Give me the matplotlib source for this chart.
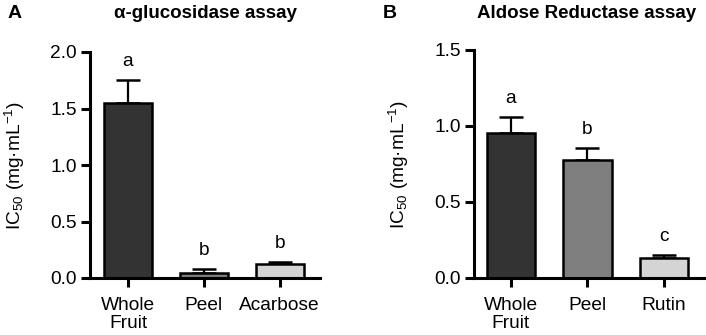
import matplotlib
matplotlib.use("Agg")
import matplotlib.pyplot as plt

plt.rcParams['font.family'] = ['Liberation Sans', 'DejaVu Sans']
plt.rcParams['mathtext.default'] = 'regular'

# panel A: alpha-glucosidase
a_labels = ['Whole\nFruit', 'Peel', 'Acarbose']
a_values = [1.545, 0.047, 0.124]
a_errors = [0.21, 0.03, 0.02]
a_letters = ['a', 'b', 'b']

# panel B: aldose reductase
b_labels = ['Whole\nFruit', 'Peel', 'Rutin']
b_values = [0.955, 0.775, 0.134]
b_errors = [0.105, 0.08, 0.016]
b_letters = ['a', 'b', 'c']

colors = ['#333333', '#7f7f7f', '#d4d4d4']
ylabel = r'IC$_{50}$ (mg·mL$^{-1}$)'
fs = 13.8

fig = plt.figure(figsize=(7.06, 3.35), dpi=100)
axA = fig.add_axes([90/706, 1-278/335, 230/706, 226/335])
axB = fig.add_axes([474/706, 1-278/335, 230/706, 228/335])


def draw(ax, labels, values, errors, letters, ymax, yticks, xlim):
    x = range(len(values))
    ax.bar(x, values, width=0.63, color=colors, edgecolor='black', linewidth=1.8, zorder=2)
    ax.errorbar(x, values, yerr=[[0]*len(errors), errors], fmt='none', ecolor='black',
                elinewidth=1.6, capsize=8.5, capthick=1.8, zorder=1)
    for i, (v, e, l) in enumerate(zip(values, errors, letters)):
        ax.annotate(l, (i, v + e), xytext=(0, 10), textcoords='offset points',
                    ha='center', va='baseline', fontsize=fs)
    ax.set_ylim(0, ymax)
    ax.set_xlim(*xlim)
    ax.set_yticks(yticks)
    ax.set_yticklabels([f'{t:.1f}' for t in yticks])
    ax.set_xticks(list(x))
    ax.set_xticklabels(labels, linespacing=1.08)
    ax.spines['top'].set_visible(False)
    ax.spines['right'].set_visible(False)
    for s in ['left', 'bottom']:
        ax.spines[s].set_linewidth(2.2)
    ax.tick_params(width=2.2, length=6.5, labelsize=fs)
    ax.tick_params(axis='y', pad=3)
    ax.tick_params(axis='x', pad=7)
    ax.set_ylabel(ylabel, fontsize=fs)


draw(axA, a_labels, a_values, a_errors, a_letters, 2.0, [0, 0.5, 1.0, 1.5, 2.0], (-0.5, 2.53))
draw(axB, b_labels, b_values, b_errors, b_letters, 1.5, [0, 0.5, 1.0, 1.5], (-0.48, 2.52))

axA.yaxis.set_label_coords(-63/230, 0.5)
axB.yaxis.set_label_coords(-63/230, 0.5)

fig.text(205/706, 1-13/335, 'α-glucosidase assay', ha='center', va='center',
         fontsize=13.5, fontweight='bold')
fig.text(587/706, 1-13/335, 'Aldose Reductase assay', ha='center', va='center',
         fontsize=13.5, fontweight='bold')
fig.text(8/706, 1-13/335, 'A', ha='left', va='center', fontsize=14, fontweight='bold')
fig.text(383/706, 1-13/335, 'B', ha='left', va='center', fontsize=14, fontweight='bold')

fig.savefig('out.png', dpi=100)
